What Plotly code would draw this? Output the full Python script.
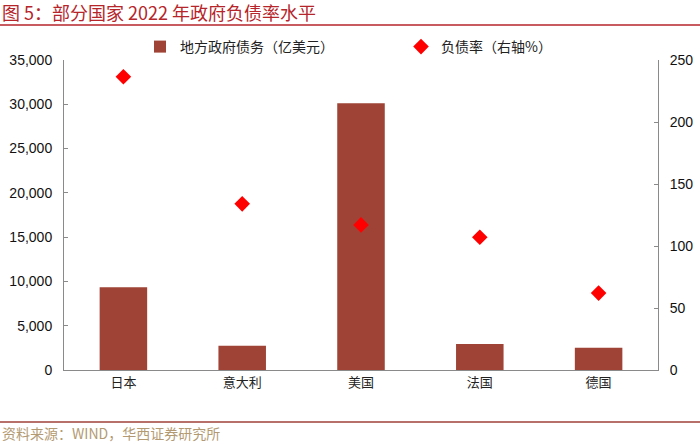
import plotly.graph_objects as go

categories = ["日本", "意大利", "美国", "法国", "德国"]
debt_values = [9340, 2740, 30110, 2940, 2520]          # 地方政府债务（亿美元）
ratio_values = [236.5, 134, 117, 107, 62]             # 负债率（右轴%）
left_ticks = [0, 5000, 10000, 15000, 20000, 25000, 30000, 35000]
right_ticks = [0, 50, 100, 150, 200, 250]

CN = "Noto Sans CJK SC, sans-serif"
NUM = "Liberation Sans, Arial, sans-serif"

fig = go.Figure()
fig.add_trace(go.Bar(
    x=categories, y=debt_values, name="地方政府债务（亿美元）",
    marker=dict(color="#9e4335", line=dict(width=0)), yaxis="y",
))
fig.add_trace(go.Scatter(
    x=categories, y=ratio_values, name="负债率（右轴%）", mode="markers",
    marker=dict(symbol="diamond", color="#ff0000", size=12, line=dict(width=0)),
    yaxis="y2",
))

axis_col = "#8a8a8a"
fig.update_layout(
    width=700, height=444,
    margin=dict(l=64, r=42, t=60, b=74, autoexpand=False),
    paper_bgcolor="white", plot_bgcolor="white",
    bargap=0.6,
    showlegend=True,
    legend=dict(orientation="h", x=(140-64)/594, y=(370-47)/310, xanchor="left", yanchor="middle",
                entrywidth=216, entrywidthmode="pixels", itemwidth=30,
                font=dict(family=CN, size=14, color="#222"),
                bgcolor="rgba(0,0,0,0)"),
    xaxis=dict(showline=True, linecolor=axis_col, linewidth=1, ticks="",
               tickfont=dict(family=CN, size=13, color="#222"), showgrid=False),
    yaxis=dict(range=[0, 35000], tickvals=left_ticks, tickformat=",",
               showline=True, linecolor=axis_col, linewidth=1, automargin=False,
               ticks="inside", ticklen=4, tickcolor=axis_col, showgrid=False, zeroline=False,
               tickfont=dict(family=NUM, size=14, color="#111"), ticklabelstandoff=8),
    yaxis2=dict(range=[0, 250], tickvals=right_ticks, overlaying="y", side="right",
                showline=True, linecolor=axis_col, linewidth=1, automargin=False,
                ticks="inside", ticklen=4, tickcolor=axis_col, showgrid=False, zeroline=False,
                tickfont=dict(family=NUM, size=14, color="#111"), ticklabelstandoff=8),
)

fig.add_annotation(text="图 5：部分国家 2022 年政府负债率水平", xref="paper", yref="paper",
                   x=-64/594, y=(370-12.5)/310, xanchor="left", yanchor="middle", showarrow=False,
                   font=dict(family=CN, size=18, color="#b5252a"))
fig.add_annotation(text="资料来源：WIND，华西证券研究所", xref="paper", yref="paper",
                   x=-64/594, y=(370-433)/310, xanchor="left", yanchor="middle", showarrow=False,
                   font=dict(family=CN, size=14, color="#b39a72"))
fig.add_shape(type="line", xref="paper", yref="paper", x0=-64/594, x1=636/594,
              y0=(370-25)/310, y1=(370-25)/310, line=dict(color="#b5252a", width=1.5))
fig.add_shape(type="line", xref="paper", yref="paper", x0=-64/594, x1=636/594,
              y0=(370-422)/310, y1=(370-422)/310, line=dict(color="#a0403a", width=1.5))

fig.write_html("out.html", config={"displayModeBar": False},
               post_script="document.body.style.margin='0';document.body.style.padding='0';")
